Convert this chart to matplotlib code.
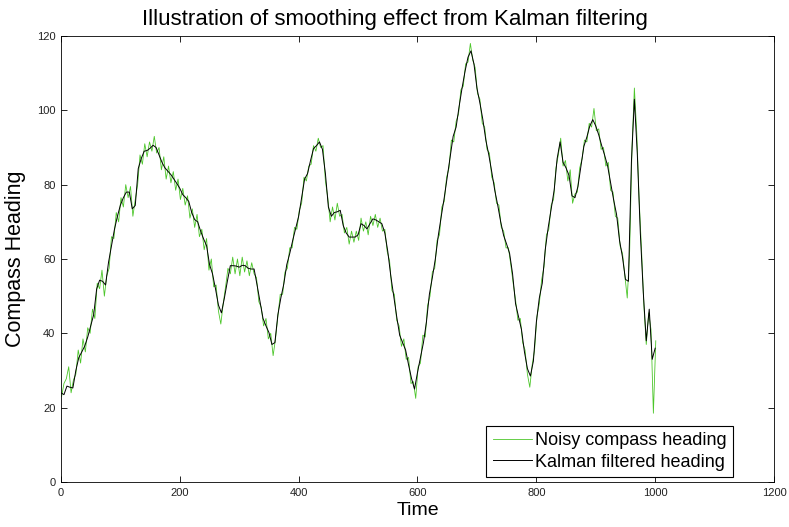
import matplotlib
matplotlib.use("Agg")
import matplotlib.pyplot as plt
import numpy as np

plt.rcParams['font.family'] = ['Liberation Sans', 'DejaVu Sans']

# Kalman filtered heading, read every 5 time steps (0..1000)
filtered = [
    24.0, 23.5, 25.8, 25.5, 25.3, 30.0, 33.5, 35.0, 36.6, 39.0,
    42.0, 45.0, 51.9, 54.3, 54.0, 53.0, 59.1, 63.5, 68.0, 71.5,
    74.5, 76.5, 78.0, 78.0, 73.5, 74.4, 84.3, 87.0, 89.0, 89.2,
    89.8, 90.6, 90.0, 88.0, 86.0, 84.5, 83.6, 82.7, 81.5, 80.3,
    79.0, 77.3, 76.5, 75.5, 72.5, 70.6, 70.0, 67.5, 65.4, 63.6,
    58.5, 56.0, 52.0, 47.6, 45.5, 49.5, 54.0, 58.2, 58.2, 58.1,
    57.8, 58.3, 58.2, 57.5, 57.3, 57.3, 53.0, 48.5, 44.0, 42.0,
    40.2, 37.0, 37.5, 45.0, 49.5, 53.3, 58.5, 61.5, 65.0, 68.3,
    71.5, 76.5, 81.5, 83.0, 86.5, 89.7, 90.5, 91.5, 89.5, 83.0,
    74.0, 71.5, 72.5, 72.7, 73.1, 69.0, 67.0, 65.9, 65.9, 65.9,
    66.5, 69.5, 69.0, 68.1, 69.5, 70.8, 70.5, 70.0, 69.5, 67.0,
    62.0, 55.5, 50.0, 44.5, 39.5, 37.5, 35.5, 31.5, 27.8, 25.0,
    29.5, 33.5, 37.5, 43.0, 50.5, 55.0, 60.0, 66.3, 71.5, 76.5,
    82.0, 87.5, 93.0, 95.5, 101.0, 106.0, 110.5, 114.3, 116.0, 112.5,
    106.0, 102.0, 97.5, 92.0, 88.0, 83.4, 78.5, 74.5, 70.0, 66.3,
    64.0, 61.5, 56.0, 48.0, 44.5, 41.0, 35.0, 30.5, 28.5, 32.5,
    43.0, 49.5, 53.5, 62.5, 68.5, 73.5, 78.5, 87.0, 91.5, 86.0,
    84.5, 82.5, 77.0, 76.5, 79.5, 85.0, 90.3, 92.8, 95.8, 97.5,
    95.8, 93.4, 90.5, 87.9, 85.0, 80.5, 76.0, 72.0, 65.0, 60.5,
    54.5, 54.0, 86.0, 103.0, 88.0, 67.0, 51.0, 38.0, 46.5, 33.0,
    36.0,
]
filtered_time = np.arange(0, 1001, 5)

# noisy compass heading, read every 4 time steps (1..1001)
noisy = [
    23.0, 26.5, 27.8, 31.0, 24.0, 27.5, 29.0, 35.5, 32.0, 38.5,
    35.0, 41.5, 40.0, 46.5, 44.0, 53.5, 52.0, 57.0, 50.0, 55.5,
    57.5, 66.0, 65.5, 72.5, 70.0, 76.5, 74.0, 80.0, 76.5, 79.5,
    71.5, 76.0, 80.0, 88.0, 85.5, 91.0, 87.5, 91.5, 89.0, 93.0,
    88.5, 90.0, 84.0, 87.5, 81.5, 85.0, 80.5, 83.5, 78.5, 81.5,
    76.0, 79.0, 74.5, 77.0, 71.0, 73.5, 68.5, 72.0, 66.0, 68.0,
    62.5, 65.5, 57.0, 60.0, 52.5, 53.0, 46.0, 42.5, 48.0, 52.5,
    57.5, 56.0, 60.5, 56.0, 60.0, 55.5, 60.5, 56.5, 59.5, 55.5,
    59.0, 56.0, 55.0, 48.5, 47.0, 42.0, 44.0, 38.5, 40.0, 34.0,
    38.5, 44.5, 50.5, 50.5, 56.5, 57.5, 63.0, 63.0, 68.5, 68.0,
    73.0, 75.0, 82.0, 81.0, 85.0, 85.5, 90.5, 89.0, 92.5, 90.0,
    90.5, 81.0, 76.5, 70.0, 74.0, 70.5, 75.0, 71.5, 72.0, 67.0,
    68.5, 64.0, 67.5, 64.5, 67.5, 65.0, 71.0, 67.5, 70.0, 66.5,
    71.5, 69.0, 72.0, 68.5, 71.0, 67.5, 68.0, 62.0, 59.5, 51.5,
    50.5, 43.5, 42.0, 36.5, 38.5, 33.0, 33.5, 26.5, 27.0, 22.5,
    31.0, 32.0, 39.5, 39.0, 47.5, 50.0, 56.5, 57.5, 65.0, 66.5,
    74.0, 75.5, 82.0, 84.5, 92.0, 91.5, 97.0, 99.0, 105.5, 106.5,
    112.5, 113.0, 118.0, 113.5, 111.5, 104.5, 103.0, 96.5, 95.5, 89.5,
    88.5, 82.0, 80.5, 75.0, 74.5, 68.5, 67.5, 63.0, 63.0, 58.5,
    53.5, 49.0, 43.5, 44.0, 37.5, 35.5, 29.0, 25.5, 31.5, 35.5,
    44.5, 48.0, 54.5, 58.0, 66.5, 68.0, 74.5, 76.0, 84.5, 88.0,
    92.5, 85.0, 86.5, 81.0, 84.0, 75.0, 77.5, 78.0, 84.5, 87.0,
    92.0, 91.5, 96.5, 95.5, 100.5, 94.5, 95.0, 89.5, 90.0, 85.0,
    86.0, 78.5, 78.0, 71.5, 71.0, 63.5, 61.5, 55.5, 49.5, 62.0,
    90.0, 106.0, 94.0, 76.0, 62.5, 47.5, 37.0, 45.5, 41.0, 18.5,
    38.0,
]
noisy_time = np.arange(1, 1002, 4)

fig = plt.figure(figsize=(7.89, 5.27), dpi=100)
ax = fig.add_axes([0.0773, 0.0854, 0.9037, 0.8463])

# noisy measurements underneath, filtered estimate on top
ax.plot(noisy_time, noisy, color='#4cc62a', linewidth=0.6, label='Noisy compass heading')
ax.plot(filtered_time, filtered, color='black', linewidth=0.7, label='Kalman filtered heading')

ax.set_xlim(0, 1200)
ax.set_ylim(0, 120)
ax.set_xticks(np.arange(0, 1201, 200))
ax.set_yticks(np.arange(0, 121, 20))
ax.tick_params(direction='in', top=True, right=True, length=4, width=0.6,
               labelsize=8, pad=4, labelcolor='#222222')
for side in ax.spines.values():
    side.set_linewidth(0.6)

# title is centred on the figure, not the axes
fig.text(0.5, 0.952, 'Illustration of smoothing effect from Kalman filtering',
         ha='center', va='baseline', fontsize=16)
ax.set_xlabel('Time', fontsize=14, labelpad=3)
ax.set_ylabel('Compass Heading', fontsize=15.5, labelpad=8)

leg = ax.legend(loc='lower right', bbox_to_anchor=(0.9425, 0.011), fontsize=13,
                fancybox=False, edgecolor='black', framealpha=1,
                handlelength=2.2, handletextpad=0.15, borderpad=0.35,
                labelspacing=0.25, borderaxespad=0)
leg.get_frame().set_linewidth(0.8)

fig.savefig('out.png', dpi=100)
